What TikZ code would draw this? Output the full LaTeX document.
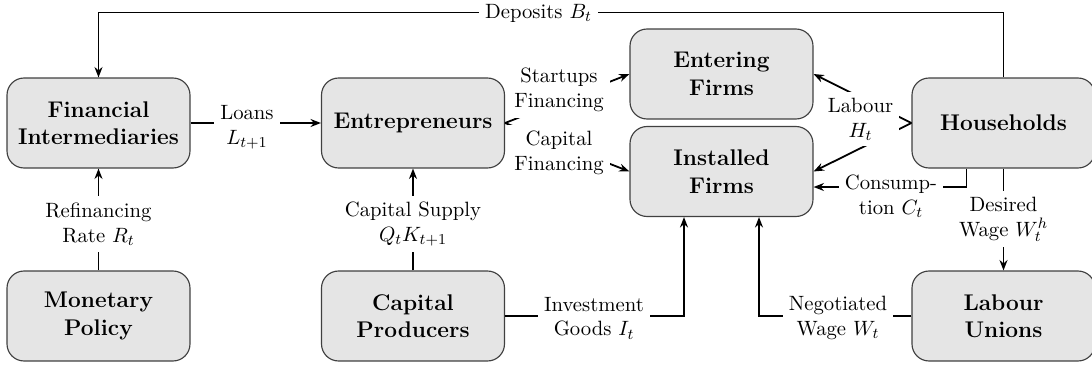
\documentclass[tikz,border=0pt]{standalone}
\usetikzlibrary{arrows.meta,calc}
\begin{document}
\begin{tikzpicture}[x=0.529pt,y=-0.529pt,
  box/.style={draw=black!75, line width=0.6pt, fill=black!10, rounded corners=9pt,
    minimum width=96.8pt, minimum height=47.6pt, align=center, font=\fontsize{12}{14.5}\selectfont\bfseries, inner sep=0pt},
  conn/.style={line width=0.95pt, -{Stealth[length=5.5pt,width=4.2pt]}},
  lbl/.style={fill=white, align=center, inner sep=3.3pt, font=\fontsize{10.95}{13.2}\selectfont}]
\useasboundingbox (0,0) rectangle (1092,364);
% boxes
\node[box] (FI) at (98.5,123) {Financial\\Intermediaries};
\node[box] (EN) at (413,123) {Entrepreneurs};
\node[box] (EF) at (721.5,74) {Entering\\Firms};
\node[box] (IF) at (721.5,171.5) {Installed\\Firms};
\node[box] (HH) at (1003.5,123) {Households};
\node[box] (MP) at (98.5,316) {Monetary\\Policy};
\node[box] (CP) at (413,316) {Capital\\Producers};
\node[box] (LU) at (1003.5,316) {Labour\\Unions};
% connectors
\draw[conn] (HH.north) -- ++(0,-65) -| (FI.north);
\draw[conn] (FI.east) -- (EN.west);
\draw[conn] (MP.north) -- (FI.south);
\draw[conn] (CP.north) -- (EN.south);
\draw[conn] (EN.east) -- (EF.west);
\draw[conn] (EN.east) -- (IF.west);
\draw[conn] (HH.west) -- (EF.east);
\draw[conn] (HH.west) -- (IF.east);
\draw[conn] ($(HH.south)+(-37,0)$) |- ($(IF.east)+(0,15.5)$);
\draw[conn] (HH.south) -- (LU.north);
\draw[conn] (CP.east) -| ($(IF.south)+(-37.5,0)$);
\draw[conn] (LU.west) -| ($(IF.south)+(37.5,0)$);
% labels
\node[lbl] (lDep) at (538.5,13) {Deposits $B_t$};
\node[lbl] (lLoan) at (247,127) {Loans\\$L_{t+1}$};
\node[lbl] (lRef) at (98.5,224) {Refinancing\\Rate $R_t$};
\node[lbl] (lCap) at (413,224) {Capital Supply\\$Q_tK_{t+1}$};
\node[lbl] (lStart) at (559,90) {Startups\\Financing};
\node[lbl] (lCapF) at (559,153) {Capital\\Financing};
\node[lbl] (lLab) at (860.5,119) {Labour\\$H_t$};
\node[lbl, inner ysep=1pt] (lCons) at (891,196) {Consump-\\tion $C_t$};
\node[lbl] (lDes) at (1003.5,219) {Desired\\Wage $W_t^h$};
\node[lbl] (lInv) at (594,318) {Investment\\Goods $I_t$};
\node[lbl] (lNeg) at (838,318) {Negotiated\\Wage $W_t$};
\end{tikzpicture}
\end{document}
